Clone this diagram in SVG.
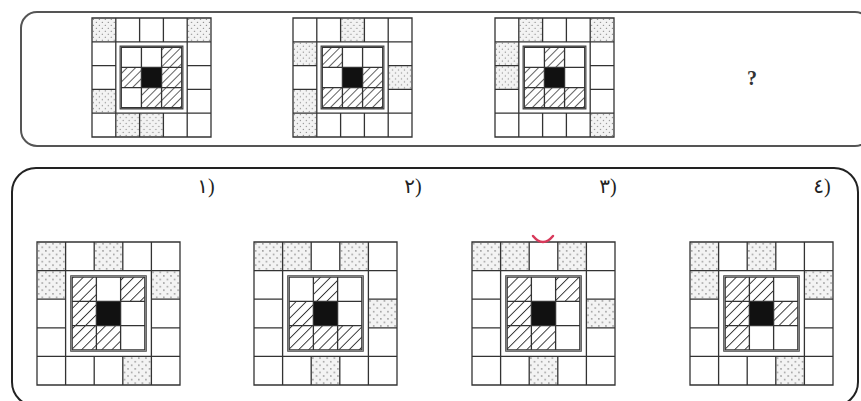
<svg xmlns="http://www.w3.org/2000/svg" xmlns:xlink="http://www.w3.org/1999/xlink" width="861" height="401" viewBox="0 0 861 401">
<style>
.ln{fill:none;stroke:#333;stroke-width:1.3;vector-effect:non-scaling-stroke}
.fr{fill:none;stroke:#444;stroke-width:1.1;vector-effect:non-scaling-stroke}
.dot{fill:url(#dots)}
.hat{fill:url(#hatch)}
.blk{fill:#111}
.lbl{font-family:"Liberation Serif","DejaVu Sans",serif;font-size:20px;fill:#222}
.q{font-family:"Liberation Serif",serif;font-size:20px;font-weight:bold;fill:#333}
</style>
<defs>
<pattern id="hatch" patternUnits="userSpaceOnUse" width="5" height="5" patternTransform="rotate(45)">
<rect width="5" height="5" fill="#fff"/>
<line x1="0" y1="0" x2="0" y2="5" stroke="#333" stroke-width="1.3"/>
</pattern>
<pattern id="dots" patternUnits="userSpaceOnUse" width="5" height="5">
<rect width="5" height="5" fill="#f3f3f3"/>
<circle cx="1.2" cy="1.2" r="0.55" fill="#8a8a8a"/>
<circle cx="3.7" cy="3.7" r="0.55" fill="#8a8a8a"/>
</pattern>
<g id="frame">
<path class="ln" d="M0 0H100V100H0Z M0 20H100 M0 80H100 M20 0V100 M80 0V100 M0 40H20 M80 40H100 M0 60H20 M80 60H100 M40 0V20 M60 0V20 M40 80V100 M60 80V100"/>
<rect class="fr" x="23.6" y="23.6" width="52.8" height="52.8"/>
<path class="ln" d="M24.6 24.6H75.4V75.4H24.6Z M41.53 24.6V75.4 M58.47 24.6V75.4 M24.6 41.53H75.4 M24.6 58.47H75.4"/>
</g>
</defs>
<rect width="861" height="401" fill="#fff"/>

<g id="panel-top">
<rect x="21" y="12" width="850" height="134" rx="16" fill="none" stroke="#555" stroke-width="2"/>
</g>
<g id="panel-bottom">
<rect x="12" y="168" width="846" height="238" rx="24" fill="none" stroke="#222" stroke-width="2"/>
</g>

<g id="grid-top-1" transform="translate(92,18) scale(1.19)">
<rect class="dot" x="0" y="0" width="20" height="20"/>
<rect class="dot" x="80" y="0" width="20" height="20"/>
<rect class="dot" x="0" y="60" width="20" height="20"/>
<rect class="dot" x="20" y="80" width="20" height="20"/>
<rect class="dot" x="40" y="80" width="20" height="20"/>
<rect class="hat" x="58.47" y="24.6" width="16.93" height="16.93"/>
<rect class="hat" x="24.6" y="41.53" width="16.93" height="16.93"/>
<rect class="hat" x="58.47" y="41.53" width="16.93" height="16.93"/>
<rect class="hat" x="41.53" y="58.47" width="16.93" height="16.93"/>
<rect class="hat" x="58.47" y="58.47" width="16.93" height="16.93"/>
<rect class="blk" x="41.53" y="41.53" width="16.93" height="16.93"/>
<use href="#frame"/>
</g>

<g id="grid-top-2" transform="translate(293,18) scale(1.19)">
<rect class="dot" x="40" y="0" width="20" height="20"/>
<rect class="dot" x="0" y="20" width="20" height="20"/>
<rect class="dot" x="80" y="40" width="20" height="20"/>
<rect class="dot" x="0" y="60" width="20" height="20"/>
<rect class="dot" x="0" y="80" width="20" height="20"/>
<rect class="hat" x="24.6" y="24.6" width="16.93" height="16.93"/>
<rect class="hat" x="58.47" y="41.53" width="16.93" height="16.93"/>
<rect class="hat" x="24.6" y="58.47" width="16.93" height="16.93"/>
<rect class="hat" x="41.53" y="58.47" width="16.93" height="16.93"/>
<rect class="hat" x="58.47" y="58.47" width="16.93" height="16.93"/>
<rect class="blk" x="41.53" y="41.53" width="16.93" height="16.93"/>
<use href="#frame"/>
</g>

<g id="grid-top-3" transform="translate(495,18) scale(1.19)">
<rect class="dot" x="20" y="0" width="20" height="20"/>
<rect class="dot" x="80" y="0" width="20" height="20"/>
<rect class="dot" x="0" y="20" width="20" height="20"/>
<rect class="dot" x="0" y="40" width="20" height="20"/>
<rect class="dot" x="80" y="80" width="20" height="20"/>
<rect class="hat" x="41.53" y="24.6" width="16.93" height="16.93"/>
<rect class="hat" x="24.6" y="41.53" width="16.93" height="16.93"/>
<rect class="hat" x="24.6" y="58.47" width="16.93" height="16.93"/>
<rect class="hat" x="41.53" y="58.47" width="16.93" height="16.93"/>
<rect class="hat" x="58.47" y="58.47" width="16.93" height="16.93"/>
<rect class="blk" x="41.53" y="41.53" width="16.93" height="16.93"/>
<use href="#frame"/>
</g>

<g id="question">
<text class="q" x="752" y="85" text-anchor="middle">?</text>
</g>

<g id="option-1">
<text class="lbl" x="206" y="193" text-anchor="middle">١)</text>
<g transform="translate(37,242) scale(1.43)">
<rect class="dot" x="0" y="0" width="20" height="20"/>
<rect class="dot" x="40" y="0" width="20" height="20"/>
<rect class="dot" x="0" y="20" width="20" height="20"/>
<rect class="dot" x="80" y="20" width="20" height="20"/>
<rect class="dot" x="60" y="80" width="20" height="20"/>
<rect class="hat" x="24.6" y="24.6" width="16.93" height="16.93"/>
<rect class="hat" x="58.47" y="24.6" width="16.93" height="16.93"/>
<rect class="hat" x="24.6" y="41.53" width="16.93" height="16.93"/>
<rect class="hat" x="24.6" y="58.47" width="16.93" height="16.93"/>
<rect class="hat" x="41.53" y="58.47" width="16.93" height="16.93"/>
<rect class="blk" x="41.53" y="41.53" width="16.93" height="16.93"/>
<use href="#frame"/>
</g>
</g>

<g id="option-2">
<text class="lbl" x="413" y="193" text-anchor="middle">٢)</text>
<g transform="translate(254,242) scale(1.43)">
<rect class="dot" x="0" y="0" width="20" height="20"/>
<rect class="dot" x="20" y="0" width="20" height="20"/>
<rect class="dot" x="60" y="0" width="20" height="20"/>
<rect class="dot" x="80" y="40" width="20" height="20"/>
<rect class="dot" x="40" y="80" width="20" height="20"/>
<rect class="hat" x="41.53" y="24.6" width="16.93" height="16.93"/>
<rect class="hat" x="24.6" y="41.53" width="16.93" height="16.93"/>
<rect class="hat" x="24.6" y="58.47" width="16.93" height="16.93"/>
<rect class="hat" x="41.53" y="58.47" width="16.93" height="16.93"/>
<rect class="hat" x="58.47" y="58.47" width="16.93" height="16.93"/>
<rect class="blk" x="41.53" y="41.53" width="16.93" height="16.93"/>
<use href="#frame"/>
</g>
</g>

<g id="option-3">
<text class="lbl" x="608" y="193" text-anchor="middle">٣)</text>
<g transform="translate(472,242) scale(1.43)">
<rect class="dot" x="0" y="0" width="20" height="20"/>
<rect class="dot" x="20" y="0" width="20" height="20"/>
<rect class="dot" x="60" y="0" width="20" height="20"/>
<rect class="dot" x="80" y="40" width="20" height="20"/>
<rect class="dot" x="40" y="80" width="20" height="20"/>
<rect class="hat" x="24.6" y="24.6" width="16.93" height="16.93"/>
<rect class="hat" x="58.47" y="24.6" width="16.93" height="16.93"/>
<rect class="hat" x="24.6" y="41.53" width="16.93" height="16.93"/>
<rect class="hat" x="24.6" y="58.47" width="16.93" height="16.93"/>
<rect class="hat" x="41.53" y="58.47" width="16.93" height="16.93"/>
<rect class="blk" x="41.53" y="41.53" width="16.93" height="16.93"/>
<use href="#frame"/>
</g>
<path d="M533 236 Q543 248 553 236" fill="none" stroke="#d8395a" stroke-width="2.5" stroke-linecap="round"/>
</g>

<g id="option-4">
<text class="lbl" x="822" y="193" text-anchor="middle">٤)</text>
<g transform="translate(690,242) scale(1.43)">
<rect class="dot" x="0" y="0" width="20" height="20"/>
<rect class="dot" x="40" y="0" width="20" height="20"/>
<rect class="dot" x="0" y="20" width="20" height="20"/>
<rect class="dot" x="80" y="20" width="20" height="20"/>
<rect class="dot" x="60" y="80" width="20" height="20"/>
<rect class="hat" x="24.6" y="24.6" width="16.93" height="16.93"/>
<rect class="hat" x="41.53" y="24.6" width="16.93" height="16.93"/>
<rect class="hat" x="24.6" y="41.53" width="16.93" height="16.93"/>
<rect class="hat" x="58.47" y="41.53" width="16.93" height="16.93"/>
<rect class="hat" x="24.6" y="58.47" width="16.93" height="16.93"/>
<rect class="blk" x="41.53" y="41.53" width="16.93" height="16.93"/>
<use href="#frame"/>
</g>
</g>
</svg>
